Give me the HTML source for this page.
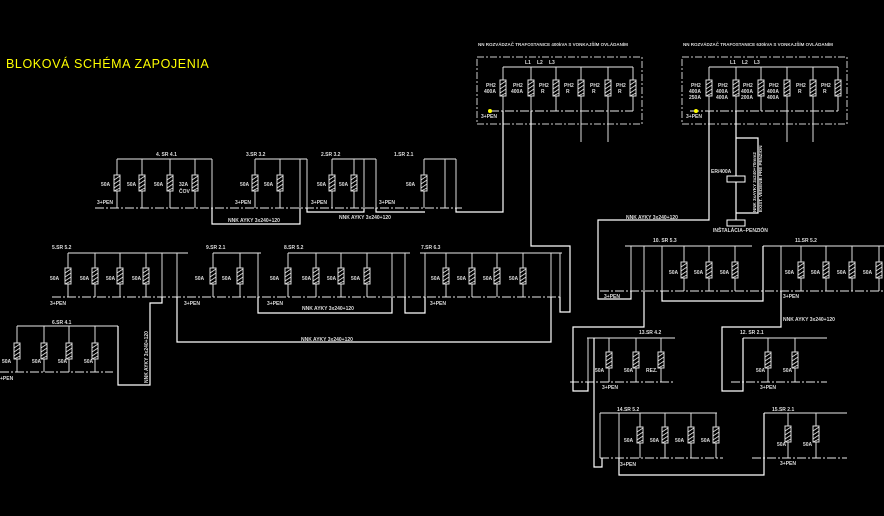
<!DOCTYPE html>
<html><head><meta charset="utf-8"><style>
html,body{margin:0;padding:0;background:#000;width:884px;height:516px;overflow:hidden}
svg text{font-family:"Liberation Sans",sans-serif;font-weight:bold;font-size:5px;fill:#ddd}
</style></head><body>
<svg width="884" height="516" viewBox="0 0 884 516" xmlns="http://www.w3.org/2000/svg">
<defs>
<g id="f"><rect x="-3" y="-8" width="6" height="16" fill="#000" stroke="#ddd" stroke-width="1"/><path d="M-3,-3 L3,-7 M-3,1 L3,-3 M-3,5 L3,1 M-3,8 L3,5" stroke="#ddd" stroke-width="0.8"/></g>
</defs>
<rect width="884" height="516" fill="#000"/>
<text x="6" y="68" style="font-size:12.5px;font-weight:normal;fill:#ff0;letter-spacing:0.6px">BLOKOVÁ SCHÉMA ZAPOJENIA</text>

<g stroke="#bbb" stroke-width="1.3" fill="none">
<path d="M117,159H212 M255,159H307 M332,159H376 M424,159H456"/>
<path d="M68,253H188 M213,253H261 M288,253H410 M420,253H562"/>
<path d="M17,326H118"/>
<path d="M503,67H633 M709,67H838"/>
<path d="M625,246H752 M763,246H884"/>
<path d="M587,338H675 M743,338H827 M600,413H717 M764,413H847"/>
</g>
<g stroke="#bbb" stroke-width="1.3" fill="none" stroke-dasharray="9,2,2,2">
<path d="M95,208H462 M52,297H560 M0,372H113 M600,291H884 M570,382H675 M731,382H827 M600,458H723 M752,458H847 M490,111H633 M690,111H838"/>
</g>
<g stroke="#ccc" stroke-width="1" fill="none" stroke-dasharray="7,2,2,2">
<rect x="477" y="57" width="165" height="67"/>
<rect x="682" y="57" width="165" height="67"/>
</g>

<g stroke="#ddd" stroke-width="1" fill="none">
<path d="M117,159V208 M142,159V208 M170,159V208 M195,159V208 M212,159V208"/>
<path d="M255,159V208 M280,159V208 M300,159V208 M307,159V208"/>
<path d="M332,159V208 M354,159V208 M364,159V208 M376,159V208"/>
<path d="M424,159V208 M445,159V208 M456,159V208"/>
<path d="M68,253V297 M95,253V297 M120,253V297 M146,253V297 M162,253V297 M177,253V297"/>
<path d="M213,253V297 M240,253V297 M258,253V297"/>
<path d="M288,253V297 M316,253V297 M341,253V297 M367,253V297 M392,253V297 M405,253V297"/>
<path d="M425,253V297 M446,253V297 M472,253V297 M497,253V297 M523,253V297 M551,253V297 M560,253V297"/>
<path d="M17,326V372 M44,326V372 M69,326V372 M95,326V372"/>
<path d="M503,67V111 M531,67V111 M556,67V111 M581,67V142 M608,67V142 M633,67V111"/>
<path d="M709,67V111 M736,67V111 M761,67V111 M787,67V142 M813,67V142 M838,67V111"/>
<path d="M631,246V291 M644,246V291 M662,246V291 M684,246V291 M709,246V291 M735,246V291"/>
<path d="M781,246V291 M801,246V291 M826,246V291 M852,246V291 M879,246V291"/>
<path d="M588,338V382 M609,338V382 M636,338V382 M661,338V382"/>
<path d="M768,338V382 M795,338V382"/>
<path d="M600,413V458 M619,413V458 M640,413V458 M665,413V458 M691,413V458 M716,413V458"/>
<path d="M788,413V458 M816,413V458"/>
</g>
<g stroke="#fff" stroke-width="1.2" fill="none">
<path d="M212,208V224H300V208"/>
<path d="M307,208V212H364V208"/>
<path d="M376,208V212H425"/>
<path d="M456,208V212H503V111"/>
<path d="M162,297V303H150V385H118V326"/>
<path d="M177,297V342H551V297"/>
<path d="M258,297V313H392V297"/>
<path d="M405,297V313H425V297"/>
<path d="M531,111V246H570V312H560V297"/>
<path d="M709,111V220H598V299H631V291"/>
<path d="M736,111V176 M736,182V220 M736,138H758V213H736"/>
<path d="M662,291V301H763V246"/>
<path d="M644,291V327H573V391H588V382"/>
<path d="M781,291V327H722V391H743V338"/>
<path d="M594,338V467H602V458"/>
<path d="M619,458V475H764V413"/>
</g>
<rect x="727" y="176" width="18" height="6" fill="#000" stroke="#fff" stroke-width="1"/>
<rect x="727" y="220" width="18" height="6" fill="#000" stroke="#fff" stroke-width="1"/>
<circle cx="490" cy="111" r="2" fill="#ff0"/><circle cx="696" cy="111" r="2" fill="#ff0"/>

<g>
<use href="#f" x="117" y="183"/><use href="#f" x="142" y="183"/><use href="#f" x="170" y="183"/><use href="#f" x="195" y="183"/>
<use href="#f" x="255" y="183"/><use href="#f" x="280" y="183"/>
<use href="#f" x="332" y="183"/><use href="#f" x="354" y="183"/>
<use href="#f" x="424" y="183"/>
<use href="#f" x="68" y="276"/><use href="#f" x="95" y="276"/><use href="#f" x="120" y="276"/><use href="#f" x="146" y="276"/>
<use href="#f" x="213" y="276"/><use href="#f" x="240" y="276"/>
<use href="#f" x="288" y="276"/><use href="#f" x="316" y="276"/><use href="#f" x="341" y="276"/><use href="#f" x="367" y="276"/>
<use href="#f" x="446" y="276"/><use href="#f" x="472" y="276"/><use href="#f" x="497" y="276"/><use href="#f" x="523" y="276"/>
<use href="#f" x="17" y="351"/><use href="#f" x="44" y="351"/><use href="#f" x="69" y="351"/><use href="#f" x="95" y="351"/>
<use href="#f" x="503" y="88"/><use href="#f" x="531" y="88"/><use href="#f" x="556" y="88"/><use href="#f" x="581" y="88"/><use href="#f" x="608" y="88"/><use href="#f" x="633" y="88"/>
<use href="#f" x="709" y="88"/><use href="#f" x="736" y="88"/><use href="#f" x="761" y="88"/><use href="#f" x="787" y="88"/><use href="#f" x="813" y="88"/><use href="#f" x="838" y="88"/>
<use href="#f" x="684" y="270"/><use href="#f" x="709" y="270"/><use href="#f" x="735" y="270"/>
<use href="#f" x="801" y="270"/><use href="#f" x="826" y="270"/><use href="#f" x="852" y="270"/><use href="#f" x="879" y="270"/>
<use href="#f" x="609" y="360"/><use href="#f" x="636" y="360"/><use href="#f" x="661" y="360"/>
<use href="#f" x="768" y="360"/><use href="#f" x="795" y="360"/>
<use href="#f" x="640" y="435"/><use href="#f" x="665" y="435"/><use href="#f" x="691" y="435"/><use href="#f" x="716" y="435"/>
<use href="#f" x="788" y="434"/><use href="#f" x="816" y="434"/>
</g>

<text x="156" y="156">4. SR 4.1</text><text x="246" y="156">3.SR 3.2</text><text x="321" y="156">2.SR 3.2</text><text x="394" y="156">1.SR 2.1</text>
<text x="101" y="186">50A</text><text x="127" y="186">50A</text><text x="154" y="186">50A</text><text x="179" y="186">32A</text><text x="179" y="193">ČOV</text>
<text x="240" y="186">50A</text><text x="264" y="186">50A</text><text x="317" y="186">50A</text><text x="339" y="186">50A</text><text x="406" y="186">50A</text>
<text x="97" y="204">3+PEN</text><text x="235" y="204">3+PEN</text><text x="311" y="204">3+PEN</text><text x="379" y="204">3+PEN</text>
<text x="228" y="222">NNK AYKY 3x240+120</text><text x="339" y="219">NNK AYKY 3x240+120</text>
<text x="52" y="249">5.SR 5.2</text><text x="206" y="249">9.SR 2.1</text><text x="284" y="249">8.SR 5.2</text><text x="421" y="249">7.SR 6.3</text>
<text x="50" y="280">50A</text><text x="80" y="280">50A</text><text x="106" y="280">50A</text><text x="132" y="280">50A</text>
<text x="195" y="280">50A</text><text x="222" y="280">50A</text><text x="270" y="280">50A</text><text x="302" y="280">50A</text><text x="327" y="280">50A</text><text x="351" y="280">50A</text>
<text x="431" y="280">50A</text><text x="457" y="280">50A</text><text x="483" y="280">50A</text><text x="509" y="280">50A</text>
<text x="50" y="305">3+PEN</text><text x="184" y="305">3+PEN</text><text x="267" y="305">3+PEN</text><text x="430" y="305">3+PEN</text>
<text x="302" y="310">NNK AYKY 3x240+120</text><text x="301" y="341">NNK AYKY 3x240+120</text>
<text transform="translate(148,383) rotate(-90)">NNK AYKY 3x240+120</text>
<text x="52" y="324">6.SR 4.1</text>
<text x="2" y="363">50A</text><text x="32" y="363">50A</text><text x="58" y="363">50A</text><text x="84" y="363">50A</text>
<text x="0" y="380">+PEN</text>
<text x="478" y="46" style="font-size:4.5px">NN ROZVÁDZAČ TRAFOSTANICE 400kVA S VONKAJŠÍM OVLÁDANÍM</text>
<text x="683" y="46" style="font-size:4.5px">NN ROZVÁDZAČ TRAFOSTANICE 630kVA S VONKAJŠÍM OVLÁDANÍM</text>
<text x="525" y="64">L1</text><text x="537" y="64">L2</text><text x="549" y="64">L3</text>
<text x="730" y="64">L1</text><text x="742" y="64">L2</text><text x="754" y="64">L3</text>
<text x="486" y="87">PH2</text><text x="484" y="93">400A</text><text x="513" y="87">PH2</text><text x="511" y="93">400A</text>
<text x="539" y="87">PH2</text><text x="541" y="93">R</text><text x="564" y="87">PH2</text><text x="566" y="93">R</text>
<text x="590" y="87">PH2</text><text x="592" y="93">R</text><text x="616" y="87">PH2</text><text x="618" y="93">R</text>
<text x="691" y="87">PH2</text><text x="689" y="93">400A</text><text x="689" y="99">250A</text>
<text x="718" y="87">PH2</text><text x="716" y="93">400A</text><text x="716" y="99">400A</text>
<text x="743" y="87">PH2</text><text x="741" y="93">400A</text><text x="741" y="99">200A</text>
<text x="769" y="87">PH2</text><text x="767" y="93">400A</text><text x="767" y="99">400A</text>
<text x="796" y="87">PH2</text><text x="798" y="93">R</text><text x="821" y="87">PH2</text><text x="823" y="93">R</text>
<text x="481" y="118">3+PEN</text><text x="686" y="118">3+PEN</text>
<text x="711" y="173">ER/400A</text><text x="713" y="232">INŠTALÁCIA–PENZIÓN</text>
<text transform="translate(756,212) rotate(-90)" style="font-size:4.5px">NNK 3xAYKY 3x240+70mm2</text>
<text transform="translate(762,212) rotate(-90)" style="font-size:4.5px">EXIST. VEDENIE PRE PENZIÓN</text>
<text x="626" y="219">NNK AYKY 3x240+120</text>
<text x="653" y="242">10. SR 5.3</text><text x="795" y="242">11.SR 5.2</text>
<text x="669" y="274">50A</text><text x="694" y="274">50A</text><text x="720" y="274">50A</text>
<text x="785" y="274">50A</text><text x="811" y="274">50A</text><text x="837" y="274">50A</text><text x="863" y="274">50A</text>
<text x="604" y="298">3+PEN</text><text x="783" y="298">3+PEN</text><text x="783" y="321">NNK AYKY 3x240+120</text>
<text x="639" y="334">13.SR 4.2</text><text x="740" y="334">12. SR 2.1</text>
<text x="595" y="372">50A</text><text x="624" y="372">50A</text><text x="646" y="372">REZ.</text>
<text x="756" y="372">50A</text><text x="783" y="372">50A</text>
<text x="602" y="389">3+PEN</text><text x="760" y="389">3+PEN</text>
<text x="617" y="411">14.SR 5.2</text><text x="772" y="411">15.SR 2.1</text>
<text x="624" y="442">50A</text><text x="650" y="442">50A</text><text x="675" y="442">50A</text><text x="701" y="442">50A</text>
<text x="777" y="446">50A</text><text x="803" y="446">50A</text>
<text x="620" y="466">3+PEN</text><text x="780" y="465">3+PEN</text>
</svg>
</body></html>
